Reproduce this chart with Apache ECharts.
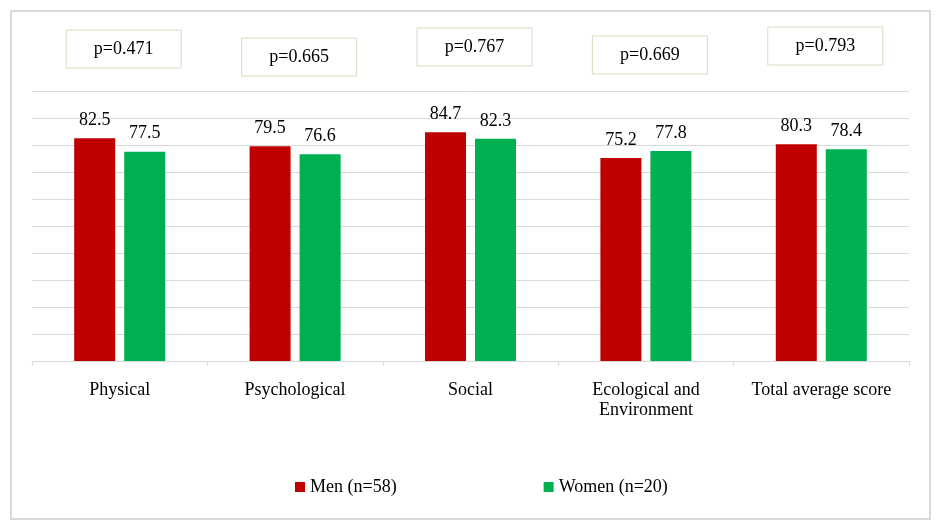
<!DOCTYPE html>
<html>
<head>
<meta charset="utf-8">
<script src="https://cdn.jsdelivr.net/npm/echarts@6/dist/echarts.min.js"></script>
<style>
html,body{margin:0;padding:0;background:#fff;}
#main{width:940px;height:530px;}
</style>
</head>
<body>
<div id="main"></div>
<script>
var categories = ['Physical', 'Psychological', 'Social', 'Ecological and\nEnvironment', 'Total average score'];
var menValues = [82.5, 79.5, 84.7, 75.2, 80.3];
var womenValues = [77.5, 76.6, 82.3, 77.8, 78.4];
var pValues = ['p=0.471', 'p=0.665', 'p=0.767', 'p=0.669', 'p=0.793'];
var seriesNames = ['Men (n=58)', 'Women (n=20)'];

var FONT = '"Liberation Serif", "Times New Roman", serif';
var boxTops = [30, 38, 28, 36, 27];

var chart = echarts.init(document.getElementById('main'));
var option = {
  backgroundColor: '#fff',
  animation: false,
  textStyle: { fontFamily: FONT },
  grid: { left: 32, right: 31, top: 91, bottom: 169 },
  legend: {
    data: seriesNames,
    left: 290,
    top: 473,
    icon: 'rect',
    itemWidth: 10,
    itemHeight: 10,
    itemGap: 147,
    textStyle: { fontFamily: FONT, fontSize: 18, color: '#000' }
  },
  xAxis: {
    type: 'category',
    data: categories,
    axisLine: { lineStyle: { color: '#d9d9d9', width: 1 } },
    axisTick: { show: true, length: 5, lineStyle: { color: '#d9d9d9' } },
    axisLabel: { fontFamily: FONT, fontSize: 18, color: '#000', margin: 19, lineHeight: 20, interval: 0 }
  },
  yAxis: {
    type: 'value',
    min: 0, max: 100, interval: 10,
    axisLine: { show: false },
    axisTick: { show: false },
    axisLabel: { show: false },
    splitLine: { lineStyle: { color: '#d9d9d9', width: 1 } }
  },
  series: [
    {
      name: seriesNames[0], type: 'bar', data: menValues,
      barWidth: 41, barGap: '22%',
      itemStyle: { color: '#C00000' },
      label: { show: true, position: 'top', distance: 9, fontFamily: FONT, fontSize: 18, color: '#000' }
    },
    {
      name: seriesNames[1], type: 'bar', data: womenValues,
      barWidth: 41,
      itemStyle: { color: '#00B050' },
      label: { show: true, position: 'top', distance: 9, fontFamily: FONT, fontSize: 18, color: '#000' }
    }
  ]
};
chart.setOption(option);

var graphics = [{
  type: 'rect',
  shape: { x: 11, y: 11, width: 919, height: 508 },
  style: { fill: 'none', stroke: '#d9d9d9', lineWidth: 2 },
  silent: true, z: 0
}];
pValues.forEach(function (p, i) {
  var cx = chart.convertToPixel({ xAxisIndex: 0 }, i) + 4;
  var w = 115, h = 38;
  graphics.push({
    type: 'group',
    children: [
      { type: 'rect', shape: { x: cx - w / 2, y: boxTops[i], width: w, height: h },
        style: { fill: '#fff', stroke: '#ddd9c3', lineWidth: 1 } },
      { type: 'text', x: cx, y: boxTops[i] + h / 2,
        style: { text: p, fontFamily: FONT, fontSize: 18, fill: '#000', align: 'center', verticalAlign: 'middle' } }
    ]
  });
});
chart.setOption({ graphic: graphics });
</script>
</body>
</html>
